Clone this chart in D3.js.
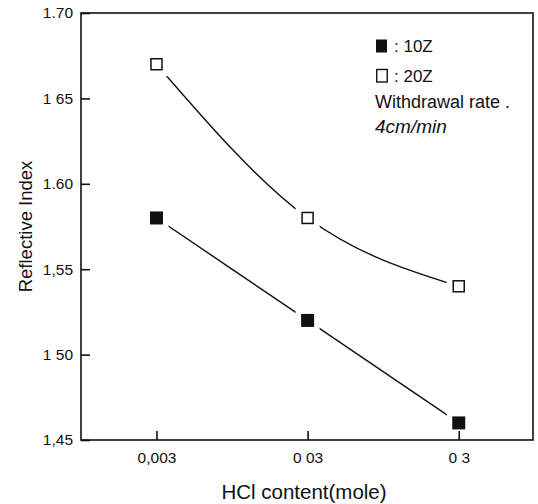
<!DOCTYPE html>
<html>
<head>
<meta charset="utf-8">
<script src="https://cdn.jsdelivr.net/npm/d3@7"></script>
<style>
  html, body { margin: 0; padding: 0; background: #fff; }
  svg { display: block; font-family: "Liberation Sans", Arial, sans-serif; }
</style>
</head>
<body>
<svg id="chart" width="538" height="504"></svg>
<script>
// HCl content (mole) on a log axis
const hclContent = [0.003, 0.03, 0.3];
const xTickValues = [0.003, 0.03, 0.3];
const xTickLabels = ["0,003", "0 03", "0 3"];

// Refractive index for the two sols
const series10Z = [1.58, 1.52, 1.46];
const series20Z = [1.67, 1.58, 1.54];

const yTickValues = [1.45, 1.50, 1.55, 1.60, 1.65, 1.70];
const yTickLabels = ["1,45", "1 50", "1,55", "1.60", "1 65", "1.70"];

const legendLabels = [": 10Z", ": 20Z"];
const noteLines = ["Withdrawal rate .", "4cm/min"];

const W = 538, H = 504;
const margin = { left: 81, right: 5, top: 13, bottom: 64 };
const svg = d3.select("#chart");

const x = d3.scaleLog()
  .domain([0.00095, 0.93])
  .range([margin.left, W - margin.right]);
const y = d3.scaleLinear()
  .domain([1.45, 1.70])
  .range([H - margin.bottom, margin.top]);

const ink = "#111";

// Curves through the measured points
const line = d3.line()
  .x((d, i) => x(hclContent[i]))
  .y(d => y(d))
  .curve(d3.curveNatural);

[series20Z, series10Z].forEach(s => {
  svg.append("path")
    .attr("d", line(s))
    .attr("fill", "none")
    .attr("stroke", ink)
    .attr("stroke-width", 1.4);
});

// White halo behind each marker leaves a small gap in the curve
const halo = 24;
[series20Z, series10Z].forEach(s => {
  svg.selectAll(null).data(s).enter().append("rect")
    .attr("x", (d, i) => x(hclContent[i]) - halo / 2)
    .attr("y", d => y(d) - halo / 2)
    .attr("width", halo).attr("height", halo)
    .attr("fill", "#fff");
});

// Axes frame
svg.append("rect")
  .attr("x", margin.left).attr("y", margin.top)
  .attr("width", W - margin.right - margin.left)
  .attr("height", H - margin.bottom - margin.top)
  .attr("fill", "none").attr("stroke", ink).attr("stroke-width", 1.6);

const tickFont = "15.5px";

const xAxis = d3.axisBottom(x)
  .tickValues(xTickValues)
  .tickSize(-9)
  .tickPadding(12)
  .tickFormat((d, i) => xTickLabels[i]);
const gx = svg.append("g")
  .attr("transform", `translate(0,${H - margin.bottom})`)
  .call(xAxis);
gx.select(".domain").remove();
gx.selectAll(".tick line").attr("stroke", ink).attr("stroke-width", 1.6);
gx.selectAll(".tick text")
  .attr("fill", ink)
  .style("font-size", tickFont)
  .style("font-family", "'Liberation Sans', Arial, sans-serif");

const yAxis = d3.axisLeft(y)
  .tickValues(yTickValues)
  .tickSize(-9)
  .tickPadding(8)
  .tickFormat((d, i) => yTickLabels[i]);
const gy = svg.append("g")
  .attr("transform", `translate(${margin.left},0)`)
  .call(yAxis);
gy.select(".domain").remove();
gy.selectAll(".tick line").attr("stroke", ink).attr("stroke-width", 1.6);
gy.selectAll(".tick text")
  .attr("fill", ink)
  .style("font-size", tickFont)
  .style("font-family", "'Liberation Sans', Arial, sans-serif");

// Markers
const ms = 13;
svg.selectAll(null).data(series10Z).enter().append("rect")
  .attr("x", (d, i) => x(hclContent[i]) - ms / 2)
  .attr("y", d => y(d) - ms / 2)
  .attr("width", ms).attr("height", ms)
  .attr("fill", ink);

const mo = 11;
svg.selectAll(null).data(series20Z).enter().append("rect")
  .attr("x", (d, i) => x(hclContent[i]) - mo / 2)
  .attr("y", d => y(d) - mo / 2)
  .attr("width", mo).attr("height", mo)
  .attr("fill", "#fff")
  .attr("stroke", ink)
  .attr("stroke-width", 1.5);

// Axis titles
svg.append("text")
  .attr("x", 304)
  .attr("y", 499)
  .attr("text-anchor", "middle")
  .attr("fill", ink)
  .style("font-size", "20.5px")
  .text("HCl content(mole)");

svg.append("text")
  .attr("transform", `translate(32,${(margin.top + H - margin.bottom) / 2}) rotate(-90)`)
  .attr("text-anchor", "middle")
  .attr("fill", ink)
  .style("font-size", "18.5px")
  .text("Reflective Index");

// Legend
const lg = svg.append("g");
const legendRows = [46, 76];
lg.append("rect").attr("x", 376).attr("y", legendRows[0] - 6.5)
  .attr("width", 11).attr("height", 13).attr("fill", ink);
lg.append("rect").attr("x", 376.75).attr("y", legendRows[1] - 6.5)
  .attr("width", 10.5).attr("height", 12.5)
  .attr("fill", "#fff").attr("stroke", ink).attr("stroke-width", 1.4);
legendLabels.forEach((t, i) => {
  lg.append("text")
    .attr("x", 394).attr("y", legendRows[i] + 6)
    .attr("fill", ink)
    .style("font-size", "17px")
    .text(t);
});
lg.append("text")
  .attr("x", 375).attr("y", 108)
  .attr("fill", ink)
  .style("font-size", "18px")
  .text(noteLines[0]);
lg.append("text")
  .attr("x", 375).attr("y", 133)
  .attr("fill", ink)
  .style("font-size", "19px")
  .style("font-style", "italic")
  .text(noteLines[1]);
</script>
</body>
</html>
